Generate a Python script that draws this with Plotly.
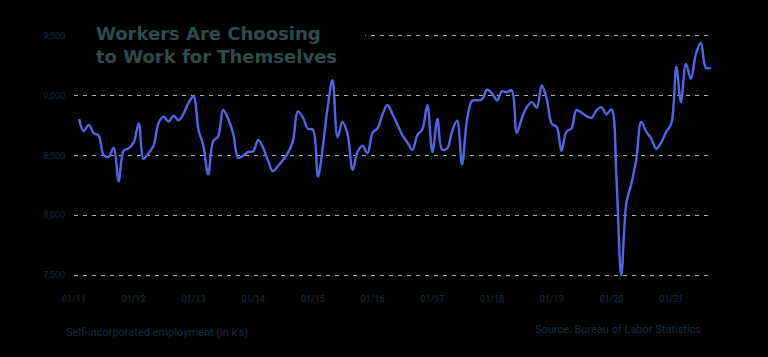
import pandas as pd
import plotly.graph_objects as go

# Monthly self-incorporated employment (thousands), Feb 2011 - Sep 2021
months = pd.date_range("2011-02-01", periods=128, freq="MS")
employment = [
    8806, 8705, 8756, 8688, 8665, 8505, 8488, 8565, 8285, 8542, 8560, 8610,
    8769, 8472, 8520, 8580, 8770, 8825, 8785, 8833, 8795, 8850, 8940, 8994,
    8710, 8590, 8342, 8620, 8660, 8881, 8806, 8680, 8481, 8500, 8530, 8536,
    8631, 8569, 8460, 8369, 8410, 8460, 8520, 8620, 8869, 8820, 8725, 8715,
    8325, 8550, 8900, 9131, 8653, 8780, 8680, 8381, 8530, 8583, 8519, 8690,
    8728, 8840, 8922, 8850, 8760, 8670, 8610, 8547, 8670, 8720, 8922, 8528,
    8806, 8550, 8560, 8700, 8792, 8425, 8800, 8958, 8962, 8970, 9050, 9020,
    8961, 9036, 9030, 9045, 8690, 8808, 8905, 8947, 8900, 9086, 8975, 8766,
    8738, 8537, 8700, 8724, 8880, 8860, 8830, 8815, 8877, 8905, 8845, 8886,
    8300, 7498, 8100, 8260, 8470, 8780, 8700, 8640, 8557, 8610, 8697, 8766,
    9240, 8947, 9267, 9142, 9350, 9443, 9234, 9234,
]

x_tick_vals = pd.date_range("2011-01-01", "2021-01-01", freq="YS")
x_tick_text = ["01/11", "01/12", "01/13", "01/14", "01/15", "01/16",
               "01/17", "01/18", "01/19", "01/20", "01/21"]
y_tick_vals = [7500, 8000, 8500, 9000, 9500]
y_tick_text = ["7,500", "8,000", "8,500", "9,000", "9,500"]

title_text = "Workers Are Choosing<br>to Work for Themselves"
footer_left = "Self-incorporated employment (in k's)"
footer_right = "Source: Bureau of Labor Statistics"

fig = go.Figure()
fig.add_trace(go.Scatter(
    x=months, y=employment, mode="lines",
    line=dict(color="#5166e6", width=2.4, shape="spline", smoothing=1.0),
    hoverinfo="skip", showlegend=False,
))

fig.update_layout(
    width=768, height=357,
    margin=dict(l=74, r=57, t=30, b=75),
    paper_bgcolor="#000000", plot_bgcolor="#000000",
    xaxis=dict(
        range=["2011-01-01", "2021-09-01"],
        tickvals=x_tick_vals, ticktext=x_tick_text,
        showgrid=False, zeroline=False, showline=False,
        ticks="outside", ticklen=8, tickcolor="rgba(0,0,0,0)",
        tickfont=dict(family="Liberation Sans Narrow, Roboto, sans-serif", size=9, color="#1f2e3b"),
    ),
    yaxis=dict(
        range=[7442, 9550],
        tickvals=y_tick_vals, ticktext=y_tick_text,
        showgrid=True, gridcolor="rgba(205,205,205,0.85)", gridwidth=1, griddash="4px,5px",
        zeroline=False, showline=False,
        ticks="outside", ticklen=6, tickcolor="rgba(0,0,0,0)",
        tickfont=dict(family="Liberation Sans Narrow, Roboto, sans-serif", size=9, color="#1c2a36"),
    ),
    shapes=[dict(
        type="rect", xref="paper", yref="y",
        x0=0, x1=0.457, y0=9460, y1=9545,
        fillcolor="#000000", line=dict(width=0), layer="above",
    )],
    annotations=[
        dict(text=title_text, xref="paper", yref="paper", x=0.031, y=0.942,
             xanchor="left", yanchor="middle", align="left", showarrow=False,
             font=dict(family="DejaVu Sans, sans-serif", size=18, color="#2d4c4a", weight="bold")),
        dict(text=footer_left, xref="paper", yref="paper", x=-0.0157, y=-0.202,
             xanchor="left", yanchor="middle", showarrow=False,
             font=dict(family="Roboto, sans-serif", size=11, color="#1a2c3c")),
        dict(text=footer_right, xref="paper", yref="paper", x=0.987, y=-0.19,
             xanchor="right", yanchor="middle", showarrow=False,
             font=dict(family="Roboto, sans-serif", size=11, color="#1a2c3c")),
    ],
)

fig.write_html(
    "out.html",
    config={"displayModeBar": False},
    post_script="document.body.style.margin='0';document.body.style.background='#000';",
)
